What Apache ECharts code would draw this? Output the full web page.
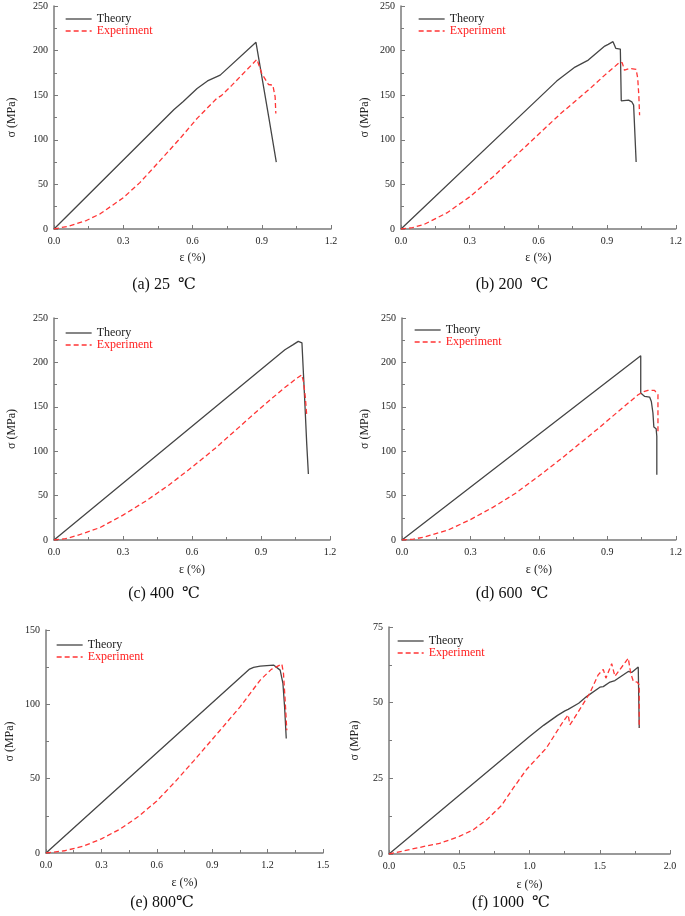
<!DOCTYPE html>
<html>
<head>
<meta charset="utf-8">
<script src="https://cdn.jsdelivr.net/npm/echarts@6/dist/echarts.min.js"></script>
<style>
html,body{margin:0;padding:0;background:#fff;}
#c{width:685px;height:916px;}
</style>
</head>
<body>
<div id="c"></div>
<script>
// ---- data (strain %, stress MPa) ----
const theory25 = [[0,0],[0.52,134],[0.56,143],[0.62,157.5],[0.665,166],[0.72,172.5],[0.875,209.3],[0.93,126],[0.963,75]];
const exp25 = [[0,0],[0.06,3],[0.14,9.5],[0.2,17],[0.3,35],[0.372,52],[0.45,74],[0.546,101.5],[0.62,124],[0.705,146.4],[0.725,149.5],[0.77,161],[0.879,190.2],[0.9,174.4],[0.929,162],[0.948,161.3],[0.958,148],[0.961,129.5]];

const theory200 = [[0,0],[0.68,165.8],[0.76,181.5],[0.765,180.5],[0.818,189.4],[0.89,205.1],[0.905,207],[0.926,210],[0.9335,211.8],[0.938,202.5],[0.958,201.7],[0.962,143.7],[0.994,144.5],[1.008,142.6],[1.016,138.9],[1.027,75.2]];
const exp200 = [[0,0],[0.05,1.5],[0.1,5],[0.2,18],[0.3,36],[0.4,58],[0.5,82],[0.6,106],[0.7,130],[0.818,155.7],[0.89,172.5],[0.955,186.8],[0.966,186.5],[0.976,178],[1.0,180],[1.027,179],[1.034,168.8],[1.039,148.2],[1.042,127.6]];

const theory400 = [[0,0],[1.004,214.3],[1.04,220],[1.062,223.7],[1.07,224.5],[1.078,222],[1.084,190],[1.091,152.4],[1.099,107.4],[1.106,74.3]];
const exp400 = [[0,0],[0.05,1.5],[0.1,5],[0.2,14],[0.3,28],[0.4,44],[0.5,62],[0.6,82],[0.7,103],[0.8,126],[0.9,149],[1.0,171],[1.05,181],[1.077,186],[1.085,178],[1.093,160],[1.099,140]];

const theory600 = [[0,0],[1.0465,207.5],[1.0465,165.5],[1.064,161.7],[1.0855,161],[1.093,156],[1.1,143],[1.104,127.3],[1.114,125.3],[1.117,116.7],[1.117,73.5]];
const exp600 = [[0,0],[0.05,1],[0.1,3.5],[0.2,11],[0.3,23],[0.4,37],[0.5,53],[0.6,72],[0.7,92],[0.8,113],[0.868,127.2],[0.948,144.8],[1.035,163.6],[1.06,167],[1.078,168.5],[1.107,168.5],[1.122,163.6],[1.122,120.5]];

const theory800 = [[0,0],[1.1025,123.7],[1.124,124.9],[1.16,125.7],[1.232,126.4],[1.237,125.3],[1.268,123],[1.283,114.1],[1.292,98.3],[1.301,77]];
const exp800 = [[0,0],[0.1,1.5],[0.2,4.5],[0.3,9.5],[0.4,16],[0.5,24.5],[0.6,35],[0.7,48],[0.8,62],[0.943,82.6],[1.051,98.3],[1.16,116.3],[1.22,123.5],[1.277,127.1],[1.286,120.8],[1.295,102.8],[1.304,82.6]];

const theory1000 = [[0,0],[1.0,38.8],[1.1,42.5],[1.2,45.8],[1.252,47.3],[1.275,47.8],[1.287,47.3],[1.35,49.8],[1.406,52],[1.501,55.1],[1.515,55.6],[1.525,55.3],[1.573,56.8],[1.608,57.3],[1.703,60.3],[1.715,60.5],[1.727,60],[1.774,61.8],[1.781,41.6]];
const exp1000 = [[0,0],[0.1,1],[0.25,2.5],[0.36,3.5],[0.5,5.8],[0.6,8],[0.7,11.5],[0.8,16],[0.88,21.5],[0.98,28],[1.05,31.5],[1.12,35],[1.24,43.8],[1.275,46],[1.2875,42.7],[1.311,44.3],[1.43,53.2],[1.489,59.2],[1.525,61],[1.544,58.1],[1.585,62.9],[1.608,58.7],[1.703,64.7],[1.72,59.8],[1.739,57],[1.767,56.8],[1.781,55.9],[1.781,41.6]];

// ---- tick labels ----
const xTicks12 = [0.0,0.3,0.6,0.9,1.2];
const xTicks15 = [0.0,0.3,0.6,0.9,1.2,1.5];
const xTicks20 = [0.0,0.5,1.0,1.5,2.0];
const yTicks250 = [0,50,100,150,200,250];
const yTicks150 = [0,50,100,150];
const yTicks75 = [0,25,50,75];

const captions = ['(a) 25  \u2103','(b) 200  \u2103','(c) 400  \u2103','(d) 600  \u2103','(e) 800\u2103','(f) 1000  \u2103'];
const seriesNames = ['Theory','Experiment'];

// ---- layout ----
const FONT = "'Liberation Serif','Times New Roman',serif";
const panels = [
  {grid:{left:54,top:6,width:277,height:223}, x:xTicks12, y:yTicks250, th:theory25, ex:exp25, yGap:36, xGap:23, leg:{left:65,top:13}, cap:[164,285]},
  {grid:{left:401,top:6,width:277,height:223}, x:xTicks12, y:yTicks250, th:theory200, ex:exp200, yGap:30, xGap:23, leg:{left:418,top:13}, cap:[512,285]},
  {grid:{left:54,top:318,width:276,height:222}, x:xTicks12, y:yTicks250, th:theory400, ex:exp400, yGap:36, xGap:24, leg:{left:65,top:327}, cap:[164,594]},
  {grid:{left:402,top:318,width:276,height:222}, x:xTicks12, y:yTicks250, th:theory600, ex:exp600, yGap:31, xGap:24, leg:{left:414,top:324}, cap:[512,594]},
  {grid:{left:46,top:630,width:277,height:223}, x:xTicks15, y:yTicks150, th:theory800, ex:exp800, yGap:30, xGap:24, leg:{left:56,top:639}, cap:[162,903]},
  {grid:{left:389,top:627,width:281,height:227}, x:xTicks20, y:yTicks75, th:theory1000, ex:exp1000, yGap:28, xGap:25, leg:{left:397,top:635}, cap:[511,903]}
];

const AX = '#7a7a7a';
const TH = '#454545';
const EX = '#ff3535';
const axisLine = {lineStyle:{color:AX, width:1.5}};
const labelStyle = {fontFamily:FONT, fontSize:10, color:'#222'};
const nameStyle = {fontFamily:FONT, fontSize:12, color:'#222'};

const option = {
  backgroundColor:'#fff',
  animation:false,
  grid:[], xAxis:[], yAxis:[], series:[], legend:[], graphic:[]
};

panels.forEach((p,i)=>{
  option.grid.push(Object.assign({containLabel:false}, p.grid));
  const xi = p.x[1]-p.x[0], yi = p.y[1]-p.y[0];
  option.xAxis.push({
    type:'value', gridIndex:i, min:p.x[0], max:p.x[p.x.length-1], interval:xi,
    name:'\u03b5 (%)', nameLocation:'middle', nameGap:p.xGap, nameTextStyle:nameStyle,
    axisLine:axisLine, axisTick:{inside:true, length:4, lineStyle:{color:AX}},
    minorTick:{show:true, splitNumber:2, length:3, lineStyle:{color:AX}},
    splitLine:{show:false},
    axisLabel:Object.assign({margin:7, formatter:v=>v.toFixed(1)}, labelStyle)
  });
  option.yAxis.push({
    type:'value', gridIndex:i, min:p.y[0], max:p.y[p.y.length-1], interval:yi,
    name:'\u03c3 (MPa)', nameLocation:'middle', nameGap:p.yGap, nameTextStyle:nameStyle,
    axisLine:axisLine, axisTick:{inside:true, length:4, lineStyle:{color:AX}},
    minorTick:{show:true, splitNumber:2, length:3, lineStyle:{color:AX}},
    splitLine:{show:false},
    axisLabel:Object.assign({margin:6}, labelStyle)
  });
  option.series.push({
    name:seriesNames[0], type:'line', xAxisIndex:i, yAxisIndex:i, data:p.th,
    symbol:'none', lineStyle:{color:TH, width:1.3}, itemStyle:{color:TH}
  });
  option.series.push({
    name:seriesNames[1], type:'line', xAxisIndex:i, yAxisIndex:i, data:p.ex,
    symbol:'none', lineStyle:{color:EX, width:1.3, type:[5,3]}, itemStyle:{color:EX}
  });
  option.legend.push({
    left:p.leg.left, top:p.leg.top, orient:'vertical', itemWidth:26, itemHeight:14, itemGap:0,
    padding:0, selectedMode:false,
    itemStyle:{color:'rgba(0,0,0,0)', borderWidth:0, borderColor:'rgba(0,0,0,0)'},
    data:[
      {name:seriesNames[0], textStyle:{color:'#222', fontFamily:FONT, fontSize:12},
       itemStyle:{color:'rgba(0,0,0,0)', borderWidth:0, borderColor:'rgba(0,0,0,0)'},
       lineStyle:{color:TH, width:1.3, type:'solid'}},
      {name:seriesNames[1], textStyle:{color:'#ff2020', fontFamily:FONT, fontSize:12},
       itemStyle:{color:'rgba(0,0,0,0)', borderWidth:0, borderColor:'rgba(0,0,0,0)'},
       lineStyle:{color:EX, width:1.3, type:[5,3]}}
    ]
  });
  option.graphic.push({
    type:'text', x:p.cap[0], y:p.cap[1],
    style:{
      text:captions[i], fill:'#111',
      font:"16px 'Liberation Serif','DejaVu Serif',serif",
      textAlign:'center', textVerticalAlign:'middle'
    }
  });
});

const chart = echarts.init(document.getElementById('c'), null, {renderer:'canvas'});
chart.setOption(option);
</script>
</body>
</html>
